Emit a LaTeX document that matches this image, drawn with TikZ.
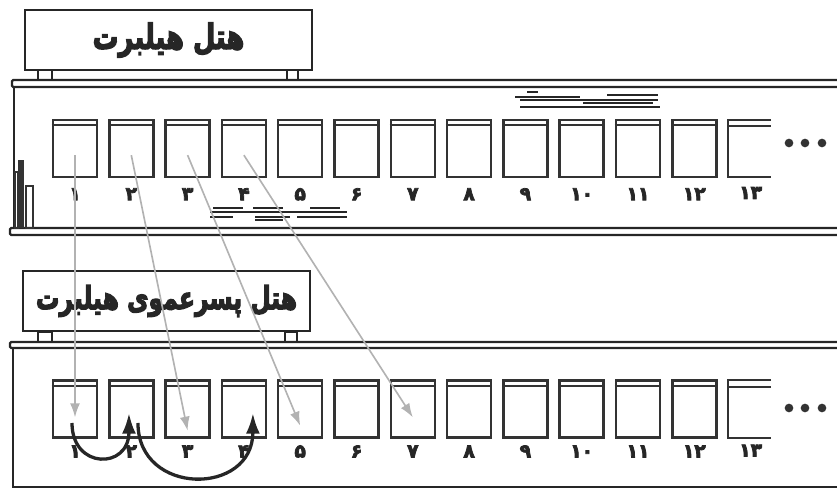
\documentclass[tikz,border=0pt]{standalone}
\usepackage{graphicx}
\usepackage{fontspec}
\newfontfamily\farsi[Script=Arabic,BoldFeatures={FakeBold=4}]{DejaVu Sans}
\TeXXeTstate=1
\usetikzlibrary{calc,positioning,arrows.meta}
\newcommand{\tallsign}[1]{\scalebox{1}[1.35]{\beginR #1\endR}}

\begin{document}
\begin{tikzpicture}[
  sign/.style={draw=black!85,line width=2pt,minimum width=8.61cm,minimum height=1.8cm,inner sep=0pt,font=\farsi\bfseries\fontsize{22}{26}\selectfont,text=black!85},
  leg/.style={draw=black!85,line width=1.6pt},
  wall/.style={draw=black!85,line width=2pt},
  win/.style={draw=black!80,line width=2.2pt,minimum width=1.32cm,minimum height=1.71cm,inner sep=0pt},
  band/.style={black!80,line width=1.5pt},
  num/.style={font=\farsi\bfseries\fontsize{16}{18}\selectfont,text=black!85,inner sep=0pt},
  dot/.style={circle,fill=black!80,inner sep=0pt,minimum size=0.26cm},
  scrib/.style={black!85,line width=2.2pt},
  map/.style={-{Latex[length=0.42cm,width=0.3cm]},black!30,line width=1.4pt},
  hop/.style={-{Latex[length=0.62cm,width=0.42cm]},black!85,line width=2.8pt}]
\useasboundingbox (0,0) rectangle (25.11,14.79);

% Hilbert hotel: sign, roof, wall and floor
\node[sign] (s1) at (5.055,13.59) {\tallsign{هتل هیلبرت}};
\draw[leg] (1.14,12.39) rectangle (1.56,12.69); \draw[leg] (8.61,12.39) rectangle (8.94,12.69);
\draw[wall,rounded corners=1pt] (25.11,12.39) -- (0.36,12.39) -- (0.36,12.18) -- (25.11,12.18);
\draw[wall] (0.42,12.18) -- (0.42,7.95);
\draw[wall,rounded corners=1pt] (25.11,7.95) -- (0.30,7.95) -- (0.30,7.74) -- (25.11,7.74);
% door posts on the left
\fill[black!80] (0.54,7.95) rectangle (0.72,9.99);
\draw[black!80,line width=1pt] (0.45,7.95) rectangle (0.54,9.63) (0.78,7.95) rectangle (0.99,9.21);
% smudged boards
\foreach \a/\b/\y in {15.81/16.14/12.03,18.21/19.74/11.94,15.45/17.40/11.88,15.60/19.74/11.79,17.49/19.59/11.70,15.60/19.80/11.58,
  6.39/7.29/8.55,7.59/8.49/8.55,9.30/10.20/8.55,6.30/10.41/8.43,6.30/6.99/8.28,7.65/8.70/8.28,8.91/10.41/8.28,7.65/8.49/8.19}
  \draw[scrib] (\a,\y) -- (\b,\y);
% rooms
\foreach \i/\d in {1/۱,2/۲,3/۳,4/۴,5/۵,6/۶,7/۷,8/۸,9/۹,10/۱۰,11/۱۱,12/۱۲} {
  \node[win] (t\i) at ({2.25+(\i-1)*1.689},10.335) {};
  \draw[band] ([yshift=-0.18cm]t\i.north west) -- ([yshift=-0.18cm]t\i.north east);
  \node[num] (tn\i) at ($(t\i.south)+(0,-0.48)$) {\d};
}
\coordinate (t13) at (22.52,10.335);
\draw[win] (23.13,11.19) -- (21.84,11.19) -- (21.84,9.48) -- (23.13,9.48); \draw[band] (21.84,11.01) -- (23.13,11.01);
\node[num] (tn13) at (22.52,9.0) {۱۳};
\foreach \x [count=\k] in {23.67,24.15,24.66} \node[dot] (td\k) at (\x,10.5) {};

% cousin hotel
\node[sign,font=\farsi\bfseries\fontsize{20}{24}\selectfont] (s2) at (4.995,5.76) {\tallsign{هتل پسرعموی هیلبرت}};
\draw[leg] (1.14,4.53) rectangle (1.56,4.83); \draw[leg] (8.55,4.53) rectangle (8.91,4.83);
\draw[wall,rounded corners=1pt] (25.11,4.53) -- (0.30,4.53) -- (0.30,4.35) -- (25.11,4.35);
\draw[wall] (0.39,4.35) -- (0.39,0.18) -- (25.11,0.18);
\foreach \i/\d in {1/۱,2/۲,3/۳,4/۴,5/۵,6/۶,7/۷,8/۸,9/۹,10/۱۰,11/۱۱,12/۱۲} {
  \node[win] (b\i) at ({2.25+(\i-1)*1.689},2.52) {};
  \draw[band] ([yshift=-0.21cm]b\i.north west) -- ([yshift=-0.21cm]b\i.north east);
  \node[num] (bn\i) at ($(b\i.south)+(0,-0.38)$) {\d};
}
\coordinate (b13) at (22.52,2.52);
\draw[win] (23.13,3.39) -- (21.84,3.39) -- (21.84,1.65) -- (23.13,1.65); \draw[band] (21.84,3.18) -- (23.13,3.18);
\node[num] (bn13) at (22.52,1.27) {۱۳};
\foreach \x [count=\k] in {23.67,24.15,24.66} \node[dot] (bd\k) at (\x,2.55) {};

% room n goes to room 2n-1
\foreach \i/\j/\d in {1/1/0.25,2/3/0.65,3/5/0.5,4/7/0.25}
  \draw[map] ($(t\i.center)+(0,-0.2)$) -- ($(b\j.center)+(0,-\d)$);
% guests that move on in the cousin hotel
\coordinate (h1) at ($(b1.center)+(-0.09,-0.42)$); \coordinate (h2) at ($(b2.center)+(-0.07,-0.12)$);
\coordinate (h3) at ($(b2.center)+(0.2,-0.42)$); \coordinate (h4) at ($(b4.center)+(0.27,-0.12)$);
\draw[hop] (h1) .. controls +(0,-1.4) and +(0,-1.7) .. (h2);
\draw[hop] (h3) .. controls +(0,-2.2) and +(0,-2.5) .. (h4);
\end{tikzpicture}
\end{document}
